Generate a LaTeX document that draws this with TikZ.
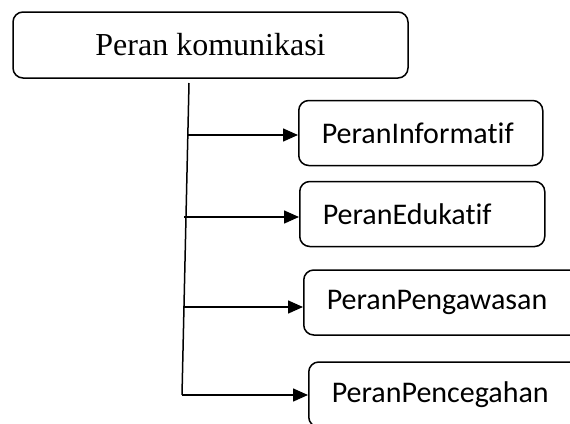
\documentclass[tikz,border=0pt]{standalone}
\usepackage{fontspec}
\setmainfont{Liberation Serif}
\newfontfamily\rolefont[Ligatures=NoCommon]{Carlito}
\usetikzlibrary{arrows.meta, positioning}

\begin{document}
\begin{tikzpicture}[x=1pt, y=-1pt, line width=1.5pt,
    topbox/.style={draw, rounded corners=10pt, minimum width=395pt, minimum height=66pt,
        font=\fontsize{32}{38}\selectfont},
    rolebox/.style={draw, rounded corners=10pt, minimum height=65pt, inner xsep=23pt,
        text width=#1, align=left, anchor=west, font=\rolefont\fontsize{30}{35}\selectfont},
    arr/.style={-{Triangle[length=15pt,width=13pt]}}]
\useasboundingbox (0,0) rectangle (570,423);
\clip (0,0) rectangle (570,423);
\node[topbox] (kom) at (210.5,45) {Peran komunikasi};
\node[rolebox=198pt] (info) at (298,133) {PeranInformatif};
\node[rolebox=199pt] (edu) at (299,214) {PeranEdukatif};
\node[rolebox=234pt] (awas) at (303,302.5) {PeranPengawasan};
\node[rolebox=229pt] (cegah) at (308,394.5) {PeranPencegahan};
\coordinate (ttop) at (189,83);
\coordinate (tbot) at (182,395);
\draw (ttop) -- (tbot);
\foreach \n/\x/\y in {info/188/135, edu/184/217, awas/184/307, cegah/182/395} {
    \coordinate (s\n) at (\x,\y);
    \draw[arr] (s\n) -- (s\n -| \n.west);
}
\end{tikzpicture}
\end{document}
